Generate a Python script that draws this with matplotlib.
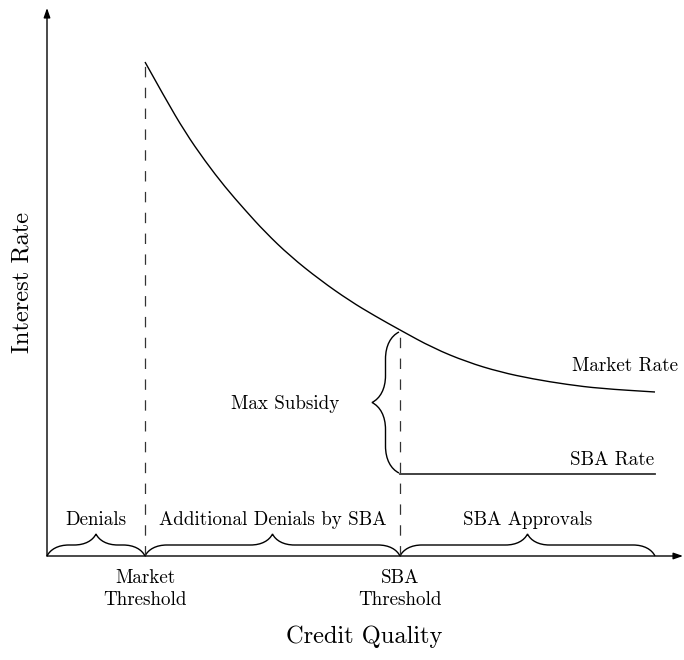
import matplotlib
matplotlib.use('Agg')
import matplotlib.pyplot as plt
from matplotlib.path import Path
from matplotlib.patches import PathPatch

# Werte (Einheiten ~ Pixel ab Achsenursprung)
credit_quality = [98, 118, 138, 158, 178, 198, 218, 243, 273, 303, 328, 353,
                  386, 420, 453, 486, 520, 553, 608]
market_rate = [494, 458, 424, 395, 369, 346, 324, 300, 276, 255, 240, 226,
               208, 194, 184, 177, 171.5, 167.5, 164]
sba_rate = 82
market_threshold = 98
sba_threshold = 353
x_end = 608

regions = ['Denials', 'Additional Denials by SBA', 'SBA Approvals']
region_edges = [0, market_threshold, sba_threshold, x_end]
threshold_labels = ['Market\nThreshold', 'SBA\nThreshold']

plt.rcParams['font.family'] = ['cmr10', 'DejaVu Serif']
plt.rcParams['lines.scale_dashes'] = False
small = 13.7
big = 17.6


def brace(ax, p0, p1, amp):
    # geschweifte Klammer wie bei TikZ decoration=brace
    (x0, y0), (x1, y1) = p0, p1
    L = ((x1 - x0) ** 2 + (y1 - y0) ** 2) ** 0.5
    ux, uy = (x1 - x0) / L, (y1 - y0) / L
    nx, ny = -uy, ux
    a = amp
    pts = [(0, 0), (.15 * a, .3 * a), (.5 * a, .5 * a), (a, .5 * a),
           (L / 2 - a, .5 * a),
           (L / 2 - .5 * a, .5 * a), (L / 2 - .15 * a, .7 * a), (L / 2, a),
           (L / 2 + .15 * a, .7 * a), (L / 2 + .5 * a, .5 * a), (L / 2 + a, .5 * a),
           (L - a, .5 * a),
           (L - .5 * a, .5 * a), (L - .15 * a, .3 * a), (L, 0)]
    codes = [Path.MOVETO, Path.CURVE4, Path.CURVE4, Path.CURVE4, Path.LINETO,
             Path.CURVE4, Path.CURVE4, Path.CURVE4,
             Path.CURVE4, Path.CURVE4, Path.CURVE4, Path.LINETO,
             Path.CURVE4, Path.CURVE4, Path.CURVE4]
    verts = [(x0 + s * ux + t * nx, y0 + s * uy + t * ny) for s, t in pts]
    ax.add_patch(PathPatch(Path(verts, codes), fill=False, lw=1.0, color='k'))


def smooth_curve(ax, xs, ys):
    verts = [(xs[0], ys[0])]
    codes = [Path.MOVETO]
    for i in range(1, len(xs) - 1):
        mx, my = (xs[i] + xs[i + 1]) / 2, (ys[i] + ys[i + 1]) / 2
        verts += [(xs[i], ys[i]), (mx, my)]
        codes += [Path.CURVE3, Path.CURVE3]
    verts.append((xs[-1], ys[-1]))
    codes.append(Path.LINETO)
    ax.add_patch(PathPatch(Path(verts, codes), fill=False, lw=1.0, color='k'))


fig = plt.figure(figsize=(6.84, 6.60), dpi=100)
ax = fig.add_axes([0, 0, 1, 1])
ax.set_xlim(-47, 637)
ax.set_ylim(-104, 556)
ax.axis('off')

# Achsen mit Pfeilen
arrow = dict(arrowstyle='-|>,head_length=0.4,head_width=0.14', lw=1.0,
             color='k', mutation_scale=14, shrinkA=0, shrinkB=0)
ax.annotate('', xy=(636, 0), xytext=(0, 0), arrowprops=arrow)
ax.annotate('', xy=(0, 548), xytext=(0, 0), arrowprops=arrow)

# Kurven
smooth_curve(ax, credit_quality, market_rate)
ax.plot([sba_threshold, x_end], [sba_rate, sba_rate], color='#333333', lw=1.3)

# gestrichelte Schwellen
top = market_rate[credit_quality.index(sba_threshold)]
ax.plot([market_threshold, market_threshold], [0, market_rate[0]],
        color='#333333', lw=0.9, ls=(0, (7.5, 7.5)))
ax.plot([sba_threshold, sba_threshold], [0, top],
        color='#333333', lw=0.9, ls=(0, (7.5, 7.5)))

# Klammern unter den Bereichen
for i, name in enumerate(regions):
    x0, x1 = region_edges[i], region_edges[i + 1]
    brace(ax, (x0, 0), (x1, 0), 22)
    ax.text((x0 + x1) / 2, 36, name, ha='center', va='center', fontsize=small)

# Max Subsidy Klammer
brace(ax, (sba_threshold - 1, sba_rate + 1), (sba_threshold - 1, top - 2), 27)
ax.text(292, 152, 'Max Subsidy', ha='right', va='center', fontsize=small)

ax.text(631, 190, 'Market Rate', ha='right', va='center', fontsize=small)
ax.text(607, 96, 'SBA Rate', ha='right', va='center', fontsize=small)

for xpos, lab in zip([market_threshold, sba_threshold], threshold_labels):
    ax.text(xpos, -33, lab, ha='center', va='center', fontsize=small, linespacing=1.25)

ax.text(317, -81, 'Credit Quality', ha='center', va='center', fontsize=big)
ax.text(-25, 274, 'Interest Rate', ha='center', va='center', fontsize=big, rotation=90)

fig.savefig('out.png', dpi=100)
